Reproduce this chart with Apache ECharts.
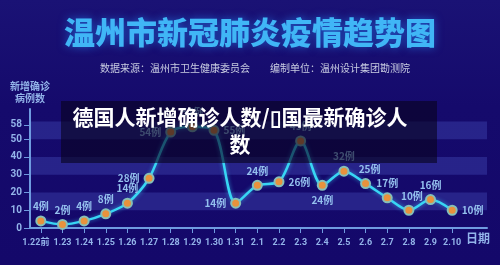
<!DOCTYPE html>
<html>
<head>
<meta charset="utf-8">
<script src="https://cdn.jsdelivr.net/npm/echarts@6/dist/echarts.min.js"></script>
<style>
html,body{margin:0;padding:0;background:#160b6c;}
#chart{width:500px;height:265px;}
</style>
</head>
<body>
<div id="chart"></div>
<script>
const categories = ['1.22前','1.23','1.24','1.25','1.26','1.27','1.28','1.29','1.30','1.31','2.1','2.2','2.3','2.4','2.5','2.6','2.7','2.8','2.9','2.10'];
const newCases = [4,2,4,8,14,28,54,57,55,14,24,26,49,24,32,25,17,10,16,10];
const yTickLabels = [0,10,20,30,40,50,58];
const mainTitle = '温州市新冠肺炎疫情趋势图';
const sourceText = '数据来源：温州市卫生健康委员会';
const authorText = '编制单位：温州设计集团勘测院';
const overlayTitle = '德国人新增确诊人数/\u25AF国最新确诊人数';
const yName = '新增确诊\n病例数';
const xName = '日期';

const labelPos = ['top','top','top','top','top','left','left','top','right','left','top','right','top','bottom','top','top','top','top','top','right'];
const labelOffset = {15:[4,0],17:[3,0]};

const chart = echarts.init(document.getElementById('chart'), null, {renderer:'canvas'});
const axisColor = '#6f9be0';
const labelColor = '#93b4ea';

const seriesData = newCases.map((v,i)=>({
  value: v,
  label: {position: labelPos[i], offset: labelOffset[i] || [0,0]}
}));
const catData = categories.map((c,i)=> i===0 ? {value:c, textStyle:{padding:[0,10,0,0]}} : c);

chart.setOption({
  backgroundColor: {
    type:'linear', x:0, y:0, x2:0, y2:1,
    colorStops:[{offset:0,color:'#1a1275'},{offset:0.4,color:'#150a6c'},{offset:1,color:'#14086a'}]
  },
  animation:false,
  grid:[
    {left:30, right:13, top:109, bottom:37},
    {left:30, right:37, top:109, bottom:37}
  ],
  xAxis:[
    {gridIndex:0, type:'value', min:0, max:1,
     axisLine:{show:true, lineStyle:{color:axisColor, width:2}},
     axisTick:{show:false}, axisLabel:{show:false}, splitLine:{show:false},
     name:xName, nameLocation:'end', nameGap:3,
     nameTextStyle:{color:labelColor, fontSize:12, fontWeight:'bold', align:'right', verticalAlign:'top', padding:[4,0,0,0], fontFamily:'Noto Sans CJK SC'}
    },
    {gridIndex:1, type:'category', data:catData, boundaryGap:true,
     axisLine:{show:false},
     axisTick:{show:true, alignWithLabel:true, length:5, lineStyle:{color:axisColor}},
     axisLabel:{color:labelColor, fontSize:9, fontWeight:'bold', margin:10, interval:0, fontFamily:'Roboto, "Noto Sans CJK SC"'},
     splitLine:{show:false}
    }
  ],
  yAxis:[
    {gridIndex:0, type:'value', min:0, max:67, interval:10,
     axisLine:{show:false}, axisTick:{show:false}, axisLabel:{show:false},
     splitLine:{show:false},
     splitArea:{show:true, areaStyle:{color:['rgba(0,0,0,0)','rgba(75,85,195,0.35)']}}
    },
    {gridIndex:1, type:'value', min:0, max:67, interval:10,
     axisLine:{show:true, lineStyle:{color:axisColor, width:2}},
     axisTick:{show:true, length:6, customValues:yTickLabels, lineStyle:{color:axisColor}},
     axisLabel:{color:labelColor, fontSize:10, fontWeight:'bold', margin:8, customValues:yTickLabels, fontFamily:'Roboto, "Noto Sans CJK SC"'},
     splitLine:{show:false}, splitArea:{show:false},
     name:yName, nameLocation:'end', nameGap:5,
     nameTextStyle:{color:labelColor, fontSize:10, fontWeight:'bold', lineHeight:12, align:'center', fontFamily:'Noto Sans CJK SC'}
    }
  ],
  series:[{
    type:'line', xAxisIndex:1, yAxisIndex:1,
    data:seriesData,
    smooth:0.3,
    symbol:'circle', symbolSize:9,
    lineStyle:{color:'#38d6f4', width:2.5, shadowColor:'rgba(60,210,255,0.6)', shadowBlur:4},
    itemStyle:{color:'#e8923c', borderColor:'#86bfb8', borderWidth:2},
    label:{show:true, formatter:'{c}例', color:'#94c0ee', fontSize:10, fontWeight:'bold', distance:4, fontFamily:'Noto Sans CJK SC'},
    z:3
  }],
  title:{
    text:mainTitle, left:'center', top:12,
    textStyle:{fontSize:31, fontWeight:900, fontFamily:'Noto Sans CJK SC', color:'#40b6f6',
      textShadowBlur:8, textShadowColor:'rgba(40,140,255,0.6)'}
  },
  graphic:[
    {type:'text', x:100, y:63, z:10,
     style:{text:sourceText, font:'10px "Noto Sans CJK SC"', fill:'#c9cde2'}},
    {type:'text', x:270, y:63, z:10,
     style:{text:authorText, font:'10px "Noto Sans CJK SC"', fill:'#c9cde2'}},
    {type:'rect', shape:{x:61, y:101, width:376, height:62}, z:20,
     style:{fill:'rgba(8,4,30,0.62)'}},
    {type:'text', x:240, y:104, z:21,
     style:{text:overlayTitle, width:345, overflow:'break', align:'center',
       font:'bold 21px "Noto Sans CJK SC"', lineHeight:27, fill:'#ffffff'}}
  ]
});
</script>
</body>
</html>
